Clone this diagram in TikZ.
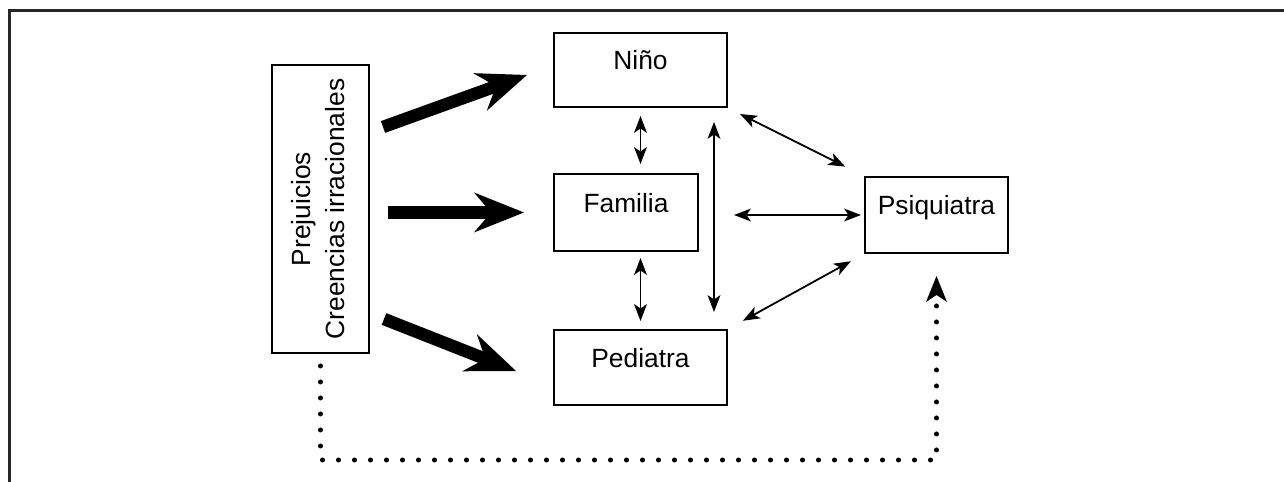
\documentclass[tikz,border=0pt]{standalone}
\usepackage{graphicx,color}
\usepackage{fontspec}
\setmainfont{Liberation Sans}
\usepackage{tikz}
\usetikzlibrary{arrows.meta}

\begin{document}
\begin{tikzpicture}[
caja/.style={draw,line width=0.04cm,font=\fontsize{15}{19.4}\selectfont},
rotulo/.style={caja,text height=2ex,text depth=2ex},
grueso/.style={-{Stealth[length=1cm,width=0.8cm,inset=0.34cm,line width=0pt]},line width=0.25cm},
doble/.style={{Stealth[length=0.34cm,width=0.26cm,inset=0.09cm,line width=0pt]}-{Stealth[length=0.34cm,width=0.26cm,inset=0.09cm,line width=0pt]},line width=0.036cm},
punteado/.style={-{Stealth[length=0.52cm,width=0.42cm,inset=0.14cm,line width=0pt]},line width=0.1cm,line cap=round,dash pattern=on 0pt off 0.32cm}]
\useasboundingbox (0,0) rectangle (25.68,9.64);
\draw [line width=0.06cm,black!85] (0.2,0) -- (0.2,9.42) -- (25.68,9.42);
\node (prejuicios) at (6.41,5.46) [caja,minimum width=1.94cm,minimum height=5.76cm] {\rotatebox{90}{\begin{tabular}{@{}c@{}}Prejuicios\\Creencias irracionales\end{tabular}}};
\node (nino) at (12.81,8.24) [rotulo,minimum width=3.46cm,minimum height=1.48cm] {Niño};
\node (familia) at (12.52,5.39) [rotulo,minimum width=2.88cm,minimum height=1.54cm] {Familia};
\node (pediatra) at (12.81,2.29) [rotulo,minimum width=3.46cm,minimum height=1.5cm] {Pediatra};
\node (psiquiatra) at (18.73,5.34) [rotulo,minimum width=2.86cm,minimum height=1.52cm] {Psiquiatra};
\coordinate (fondo) at (6.41,0.44);
\draw [grueso] ([shift={(0.26,-1.26)}]prejuicios.north east) -- ([shift={(-0.52,-0.1)}]nino.west);
\draw [grueso,shorten <=0.36cm,shorten >=0.58cm] (prejuicios.east |- familia.west) -- (familia.west);
\draw [grueso] ([shift={(0.28,0.7)}]prejuicios.south east) -- ([shift={(-0.74,-0.07)}]pediatra.west);
\draw [doble,shorten <=0.16cm,shorten >=0.18cm] (nino.south) -- (nino.south |- familia.north);
\draw [doble,shorten <=0.12cm,shorten >=0.16cm] (pediatra.north |- familia.south) -- (pediatra.north);
\draw [doble,shorten <=0.28cm,shorten >=0.34cm] ([xshift=-0.28cm]nino.south east) -- ([xshift=-0.28cm]pediatra.north east);
\draw [doble,shorten <=0.27cm,shorten >=0.42cm] (nino.south east) -- (psiquiatra.north west);
\draw [doble,shorten <=0.06cm,shorten >=0.7cm] (psiquiatra.west) -- (psiquiatra.west -| familia.east);
\draw [doble,shorten <=0.34cm,shorten >=0.3cm] (pediatra.north east) -- (psiquiatra.south west);
\draw [punteado,shorten <=0.24cm,shorten >=0.44cm] (prejuicios.south) -- (fondo) -- (psiquiatra.south |- fondo) -- (psiquiatra.south);
\end{tikzpicture}
\end{document}
